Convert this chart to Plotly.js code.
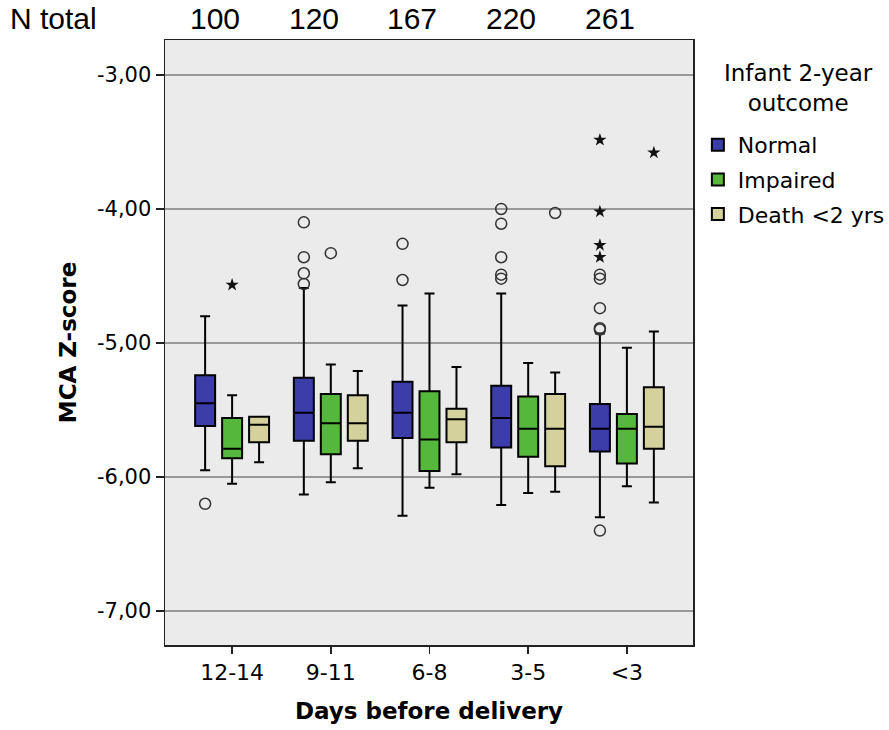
<!DOCTYPE html>
<html>
<head>
<meta charset="utf-8">
<script src="https://cdn.plot.ly/plotly-3.0.1.min.js"></script>
<style>html,body{margin:0;padding:0;background:#fff;}#chart{width:889px;height:730px;}</style>
</head>
<body>
<div id="chart"></div>
<script>
const categories = ['12-14', '9-11', '6-8', '3-5', '<3'];
const nTotal = [100, 120, 167, 220, 261];
const yTickVals = [-7, -6, -5, -4, -3];
const yTickText = ['-7,00', '-6,00', '-5,00', '-4,00', '-3,00'];

// Normal
const normalLow = [-5.95, -6.13, -6.29, -6.21, -6.30];
const normalQ1 = [-5.62, -5.73, -5.71, -5.78, -5.81];
const normalMed = [-5.45, -5.52, -5.52, -5.56, -5.64];
const normalQ3 = [-5.24, -5.26, -5.29, -5.32, -5.455];
const normalHigh = [-4.80, -4.59, -4.72, -4.63, -4.93];
// Impaired
const impairedLow = [-6.05, -6.04, -6.08, -6.12, -6.07];
const impairedQ1 = [-5.86, -5.83, -5.955, -5.85, -5.90];
const impairedMed = [-5.79, -5.60, -5.72, -5.64, -5.64];
const impairedQ3 = [-5.56, -5.38, -5.36, -5.40, -5.53];
const impairedHigh = [-5.39, -5.16, -4.63, -5.15, -5.035];
// Death <2 yrs
const deathLow = [-5.89, -5.935, -5.98, -6.11, -6.19];
const deathQ1 = [-5.74, -5.73, -5.74, -5.92, -5.79];
const deathMed = [-5.61, -5.60, -5.57, -5.64, -5.625];
const deathQ3 = [-5.55, -5.39, -5.49, -5.38, -5.33];
const deathHigh = [-5.55, -5.21, -5.18, -5.22, -4.915];

// Outliers (circles) and extremes (stars)
const normalCircleX = ['12-14', '9-11', '9-11', '9-11', '9-11', '6-8', '6-8', '3-5', '3-5', '3-5', '3-5', '3-5', '<3', '<3', '<3', '<3', '<3', '<3'];
const normalCircleY = [-6.20, -4.10, -4.36, -4.48, -4.56, -4.26, -4.53, -4.00, -4.11, -4.36, -4.49, -4.52, -4.49, -4.52, -4.74, -4.89, -4.90, -6.40];
const normalStarX = ['<3', '<3', '<3', '<3'];
const normalStarY = [-3.485, -4.02, -4.27, -4.36];
const impairedCircleX = ['9-11'];
const impairedCircleY = [-4.33];
const impairedStarX = ['12-14'];
const impairedStarY = [-4.567];
const deathCircleX = ['3-5'];
const deathCircleY = [-4.03];
const deathStarX = ['<3'];
const deathStarY = [-3.58];

const seriesNames = ['Normal', 'Impaired', 'Death <2 yrs'];
const fills = ['#3d3daa', '#55b83c', '#d5d19c'];
const legendTitle = 'Infant 2-year<br>outcome';

function boxTrace(name, fill, low, q1, med, q3, high) {
  return {
    type: 'box', name: name, x: categories, offsetgroup: name, legendgroup: name,
    lowerfence: low, q1: q1, median: med, q3: q3, upperfence: high,
    fillcolor: fill, line: {color: '#000', width: 2}, whiskerwidth: 0.5,
    boxpoints: false, hoverinfo: 'y'
  };
}
function ptTrace(group, xs, ys, star) {
  return {
    type: 'scatter', mode: 'markers', x: xs, y: ys, offsetgroup: group,
    showlegend: false, hoverinfo: 'y',
    marker: star ? {symbol: 'star', size: 10, color: '#111', line: {width: 0}}
                 : {symbol: 'circle-open', size: 11, color: '#333', line: {width: 1.5}}
  };
}

const data = [
  boxTrace(seriesNames[0], fills[0], normalLow, normalQ1, normalMed, normalQ3, normalHigh),
  boxTrace(seriesNames[1], fills[1], impairedLow, impairedQ1, impairedMed, impairedQ3, impairedHigh),
  boxTrace(seriesNames[2], fills[2], deathLow, deathQ1, deathMed, deathQ3, deathHigh),
  ptTrace(seriesNames[0], normalCircleX, normalCircleY, false),
  ptTrace(seriesNames[0], normalStarX, normalStarY, true),
  ptTrace(seriesNames[1], impairedCircleX, impairedCircleY, false),
  ptTrace(seriesNames[1], impairedStarX, impairedStarY, true),
  ptTrace(seriesNames[2], deathCircleX, deathCircleY, false),
  ptTrace(seriesNames[2], deathStarX, deathStarY, true)
];

const topFont = {family: 'Liberation Sans, Arial', size: 30, color: '#000'};
const annotations = [{
  xref: 'paper', yref: 'paper', x: -0.2975, y: 1.036, xanchor: 'left', yanchor: 'middle',
  text: 'N total', showarrow: false, font: topFont
}, {
  xref: 'paper', yref: 'paper', x: 1.199, y: 0.9207, xanchor: 'center', yanchor: 'middle',
  text: legendTitle, showarrow: false, font: {family: 'DejaVu Sans, Arial', size: 23, color: '#000'}
}];
categories.forEach((c, i) => annotations.push({
  xref: 'x', yref: 'paper', x: c, y: 1.036, yanchor: 'middle', xshift: -17,
  text: String(nTotal[i]), showarrow: false, font: topFont
}));

const layout = {
  width: 889, height: 730,
  margin: {l: 165, r: 196, t: 40, b: 85},
  paper_bgcolor: '#fff', plot_bgcolor: '#ebebeb',
  boxmode: 'group', boxgap: 0.18, boxgroupgap: 0.26,
  scattermode: 'group', scattergap: 0.18,
  font: {family: 'DejaVu Sans, Arial', color: '#000'},
  xaxis: {
    type: 'category', categoryorder: 'array', categoryarray: categories,
    range: [-0.68, 4.67], showgrid: false, zeroline: false,
    showline: true, linecolor: '#222', linewidth: 1.5, mirror: true,
    ticks: 'outside', ticklen: 7, tickcolor: '#222', tickwidth: 1.5,
    tickfont: {size: 22}, automargin: false,
    title: {text: '<b>Days before delivery</b>', font: {size: 23}, standoff: 19}
  },
  yaxis: {
    range: [-7.254, -2.739], tickvals: yTickVals, ticktext: yTickText,
    showgrid: true, gridcolor: '#999', gridwidth: 1.5, zeroline: false,
    showline: true, linecolor: '#222', linewidth: 1.5, mirror: true,
    ticks: 'outside', ticklen: 8, tickcolor: '#222', tickwidth: 1.5,
    tickfont: {size: 21}, automargin: false,
    title: {text: '<b>MCA Z-score</b>', font: {size: 23}, standoff: 14}
  },
  legend: {
    xref: 'container', yref: 'container',
    x: 0.785, y: 0.8301, xanchor: 'left', yanchor: 'top',
    bgcolor: 'rgba(0,0,0,0)', font: {size: 22},
    itemwidth: 30, tracegroupgap: 3
  },
  annotations: annotations,
  showlegend: true
};

Plotly.newPlot('chart', data, layout, {staticPlot: true});
</script>
</body>
</html>
